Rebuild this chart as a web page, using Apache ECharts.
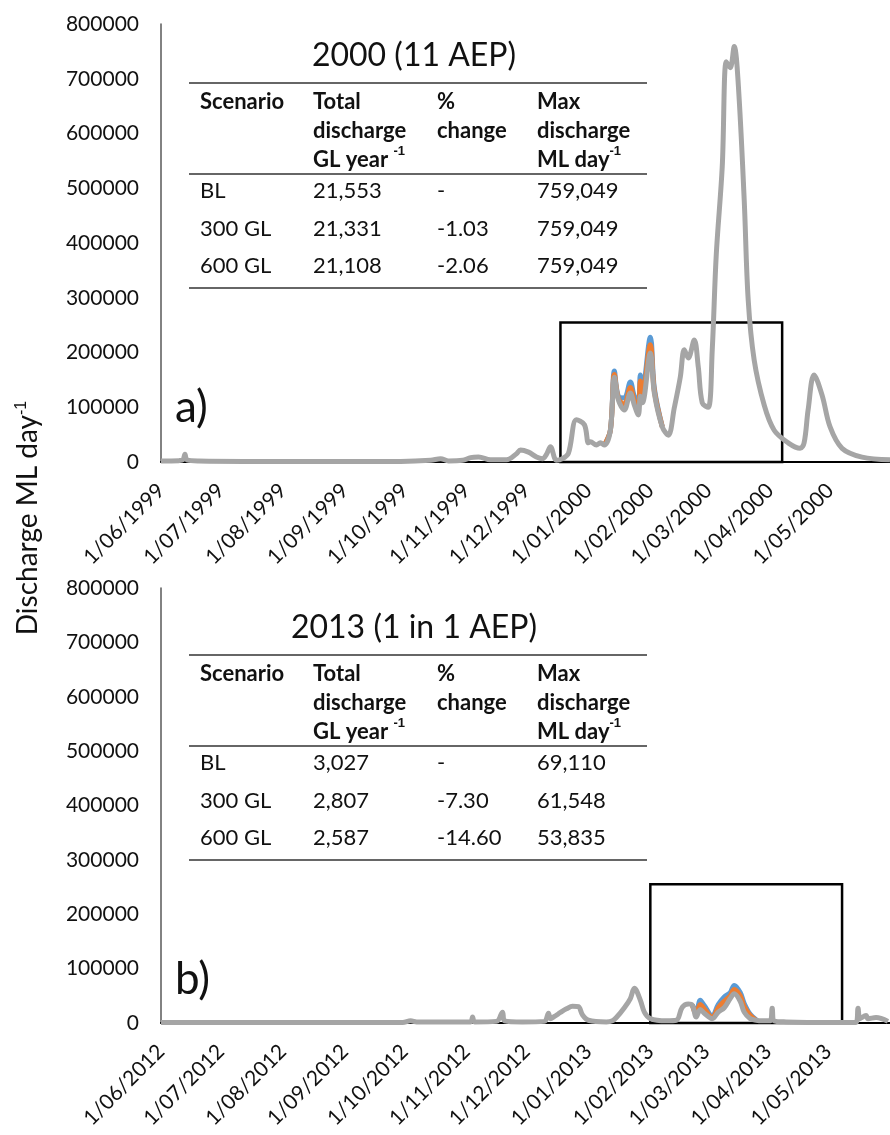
<!DOCTYPE html>
<html lang="en">
<head>
<meta charset="UTF-8">
<title>Discharge 2000 / 2013</title>
<style>
    html, body { margin: 0; padding: 0; background: #fff; }
    #chart { width: 890px; height: 1135px; }
</style>
</head>
<body>
<div id="chart"></div>
<script src="https://cdn.jsdelivr.net/npm/echarts@6/dist/echarts.min.js"></script>
<script>
// x values are days counted from the left end of each axis (axisStart)

// ---------- panel a) 2000 ----------
const axisStartA = '1999-06-01';
const monthLabelsA = ['1/06/1999','1/07/1999','1/08/1999','1/09/1999','1/10/1999','1/11/1999',
    '1/12/1999','1/01/2000','1/02/2000','1/03/2000','1/04/2000','1/05/2000'];
const boxA = [[200, 0], [311, 255000]];

// 600 GL (grey, drawn on top)
const a600 = [[0,2000],[9,2500],[11,4000],[12,14000],[13,4000],[19,2000],[70,1000],[120,1000],[135,3000],
    [140,6000],[144,2000],[151,3000],[155,8000],[159,9000],[165,4000],[173,4000],[178,15000],[180,22000],
    [184,18000],[188,9000],[191,6000],[193,14000],[195,28000],[198,3000],[201,6000],[204,16000],[208,77000],
    [212,68000],[214,35000],[215,37000],[218,31000],[220,35000],[222,31000],[225,58000],[227,155000],
    [229,113000],[232,95000],[235,126000],[237,104000],[239,86000],[240,120000],[241,108000],[245,199000],
    [247,126000],[251,64000],[254,49000],[257,99000],[260,155000],[262,205000],[264,190000],[267,223000],
    [269,174000],[271,108000],[274,100000],[276,205000],[278,378000],[281,539000],[283,731000],[285,720000],
    [287,759049],[289,692000],[292,479000],[294,296000],[297,186000],[302,104000],[307,58000],[314,35000],
    [320,25000],[322,35000],[324,95000],[327,159000],[331,122000],[335,64000],[341,25000],[351,9000],[365,4000]];
// BL and 300 GL only show where they rise above the grey line
const aBL = [[222,31000],[225,58000],[227,166000],[229,120000],[232,117000],[235,146000],[237,120000],
    [239,110000],[240,159000],[241,130000],[245,228000],[247,135000],[251,64000]];
const a300 = [[222,31000],[225,58000],[227,160000],[229,116000],[232,105000],[235,136000],[237,112000],
    [239,100000],[240,148000],[241,120000],[245,214000],[247,130000],[251,64000]];

const tableTitleA = '2000 (11 AEP)';
const tableRowsA = [['BL','21,553','-','759,049'],['300 GL','21,331','-1.03','759,049'],['600 GL','21,108','-2.06','759,049']];

// ---------- panel b) 2013 ----------
const axisStartB = '2012-06-01';
const monthLabelsB = ['1/06/2012','1/07/2012','1/08/2012','1/09/2012','1/10/2012','1/11/2012',
    '1/12/2012','1/01/2013','1/02/2013','1/03/2013','1/04/2013','1/05/2013'];
const boxB = [[245, 0], [341, 255000]];

const b600 = [[0,1000],[121,1000],[125,4000],[128,2000],[155,2000],[156,11000],[157,2000],[168,3000],
    [171,20000],[172,4000],[181,2000],[192,3000],[194,18000],[195,8000],[197,12000],[199,17000],[201,22000],
    [203,26000],[206,31000],[209,30000],[211,15000],[214,5000],[223,2000],[226,4000],[228,10000],[232,28000],
    [235,45000],[237,64000],[240,42000],[242,20000],[245,8000],[253,4000],[258,5000],[261,29000],[264,35000],
    [266,33000],[268,11000],[270,25000],[272,18000],[276,8000],[279,20000],[282,28000],[285,45000],[287,53835],
    [290,40000],[292,20000],[295,8000],[298,5000],[301,4000],[305,4000],[306,27000],[307,4000],[313,2000],
    [336,1000],[348,1000],[349,27000],[350,8000],[353,14000],[354,8000],[358,10000],[364,3000]];
const bBL = [[266,33000],[268,20000],[270,42000],[272,32000],[276,13000],[279,34000],[282,48000],[285,56000],
    [287,69110],[290,56000],[292,36000],[295,16000],[298,6000]];
const b300 = [[266,33000],[268,16000],[270,34000],[272,26000],[276,10000],[279,28000],[282,40000],[285,50000],
    [287,61548],[290,50000],[292,30000],[295,14000],[298,5000]];

const tableTitleB = '2013 (1 in 1 AEP)';
const tableRowsB = [['BL','3,027','-','69,110'],['300 GL','2,807','-7.30','61,548'],['600 GL','2,587','-14.60','53,835']];

const yTicks = [0, 800000, 100000]; // min, max, step
const axisDays = 365;

const FONT = 'Lato';
const colors = { bl: '#5b9bd5', gl300: '#ed7d31', gl600: '#a5a5a5' };
const DAY = 86400000;

/* days from axis start to a '1/06/1999' style label */
function labelDay(s, start) {
    const p = s.split('/');
    const q = start.split('-');
    return Math.round((Date.UTC(+p[2], +p[1] - 1, +p[0]) - Date.UTC(+q[0], +q[1] - 1, +q[2])) / DAY);
}

function xAxis(gridIndex, labels, start) {
    const ticks = labels.map(l => labelDay(l, start));
    return {
        type: 'value', gridIndex: gridIndex,
        min: 0, max: axisDays,
        axisLine: { show: true, onZero: false, lineStyle: { color: '#000', width: 2 } },
        axisTick: { show: false },
        splitLine: { show: false },
        axisLabel: {
            customValues: ticks,
            rotate: 45, margin: 25,
            fontFamily: FONT, fontSize: 21, color: '#111',
            formatter: v => { const i = ticks.indexOf(v); return i < 0 ? '' : labels[i]; }
        }
    };
}
function yAxis(gridIndex) {
    return {
        type: 'value', gridIndex: gridIndex,
        min: yTicks[0], max: yTicks[1], interval: yTicks[2],
        axisLine: { show: true, lineStyle: { color: '#595959', width: 1.5 } },
        axisTick: { show: false },
        splitLine: { show: false },
        axisLabel: { margin: 22, fontFamily: FONT, fontSize: 21, color: '#111', formatter: v => String(v) }
    };
}
function lines(idx, bl, gl300, gl600, box) {
    const base = { type: 'line', xAxisIndex: idx, yAxisIndex: idx, showSymbol: false, smooth: 0.35, animation: false };
    return [
        Object.assign({}, base, {
            name: 'BL', data: bl, lineStyle: { color: colors.bl, width: 5 }, itemStyle: { color: colors.bl },
            markArea: {
                silent: true,
                itemStyle: { color: 'rgba(0,0,0,0)', borderColor: '#000', borderWidth: 2.5 },
                data: [[{ coord: box[0] }, { coord: box[1] }]]
            }
        }),
        Object.assign({}, base, { name: '300 GL', data: gl300, lineStyle: { color: colors.gl300, width: 5 }, itemStyle: { color: colors.gl300 } }),
        Object.assign({}, base, { name: '600 GL', data: gl600, lineStyle: { color: colors.gl600, width: 5 }, itemStyle: { color: colors.gl600 } })
    ];
}

/* inset table drawn as text + rules */
function table(title, rows, dy) {
    const cols = [200, 313, 437, 537];
    const rule = y => ({ type: 'line', shape: { x1: 189, y1: y + dy, x2: 647, y2: y + dy }, style: { stroke: '#333', lineWidth: 1.5 } });
    const txt = (x, y, text, extra) => ({
        type: 'text', x: x, y: y + dy,
        style: Object.assign({ text: text, fontFamily: FONT, fontSize: 22, fill: '#111', verticalAlign: 'middle' }, extra || {})
    });
    const headRich = {
        fontFamily: FONT, fontSize: 22, fontWeight: 'bold', fill: '#111', verticalAlign: 'top', lineHeight: 29,
        rich: { s: { fontSize: 13, fontWeight: 'bold', verticalAlign: 'top', lineHeight: 16 } }
    };
    const els = [
        txt(414, 56, title, { fontSize: 32, align: 'center' }),
        rule(83), rule(174), rule(288),
        txt(cols[0], 87, 'Scenario', headRich),
        txt(cols[1], 87, 'Total\ndischarge\nGL year {s|-1}', headRich),
        txt(cols[2], 87, '%\nchange', headRich),
        txt(cols[3], 87, 'Max\ndischarge\nML day{s|-1}', headRich)
    ];
    const rowY = [191, 229, 266];
    rows.forEach((r, i) => r.forEach((c, j) => els.push(txt(cols[j], rowY[i], c))));
    return els;
}

const chart = echarts.init(document.getElementById('chart'));
chart.setOption({
    backgroundColor: '#fff',
    animation: false,
    grid: [
        { left: 161, top: 24, width: 729, height: 438, containLabel: false, outerBoundsMode: 'none' },
        { left: 161, top: 588, width: 729, height: 435, containLabel: false, outerBoundsMode: 'none' }
    ],
    xAxis: [xAxis(0, monthLabelsA, axisStartA), xAxis(1, monthLabelsB, axisStartB)],
    yAxis: [yAxis(0), yAxis(1)],
    series: lines(0, aBL, a300, a600, boxA).concat(lines(1, bBL, b300, b600, boxB)),
    graphic: [].concat(
        table(tableTitleA, tableRowsA, 0),
        table(tableTitleB, tableRowsB, 572),
        [
            { type: 'text', x: 175, y: 408, style: { text: 'a)', fontFamily: FONT, fontSize: 44, fill: '#111', verticalAlign: 'middle' } },
            { type: 'text', x: 175, y: 980, style: { text: 'b)', fontFamily: FONT, fontSize: 44, fill: '#111', verticalAlign: 'middle' } },
            {
                type: 'text', x: 28, y: 518, rotation: Math.PI / 2,
                style: {
                    text: 'Discharge ML day{s|-1}', fontFamily: FONT, fontSize: 28, fill: '#111',
                    align: 'center', verticalAlign: 'middle',
                    rich: { s: { fontSize: 16, verticalAlign: 'top', lineHeight: 16 } }
                }
            }
        ]
    )
});
</script>
</body>
</html>
